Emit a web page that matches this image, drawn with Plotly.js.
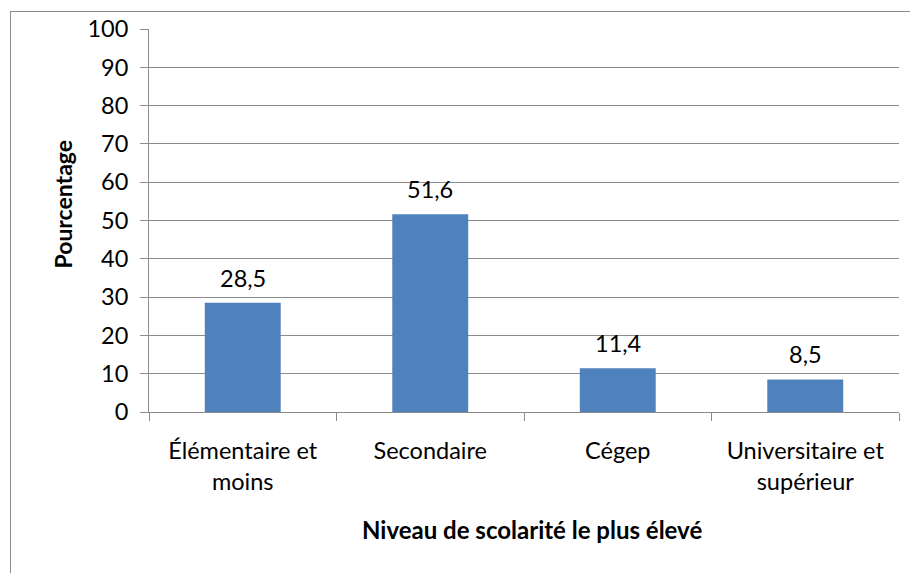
<!DOCTYPE html>
<html>
<head>
<meta charset="utf-8">
<script src="https://cdn.plot.ly/plotly-3.0.1.min.js"></script>
<style>
  html, body { margin: 0; padding: 0; background: #ffffff; }
  #wrap { position: relative; width: 910px; height: 573px; overflow: hidden; }
  #frame { position: absolute; left: 10px; top: 11px; width: 1000px; height: 700px; border: 1.5px solid #8c8c8c; box-sizing: border-box; }
  #chart { position: absolute; left: 0; top: 0; width: 910px; height: 573px; }
</style>
</head>
<body>
<div id="wrap">
  <div id="frame"></div>
  <div id="chart"></div>
</div>
<script>
const categories = ["Élémentaire et<br>moins", "Secondaire", "Cégep", "Universitaire et<br>supérieur"];
const values = [28.5, 51.6, 11.4, 8.5];
const yTickValues = [0, 10, 20, 30, 40, 50, 60, 70, 80, 90, 100];
const xTitle = "Niveau de scolarité le plus élevé";
const yTitle = "Pourcentage";

const FONT = "Lato, 'Open Sans', sans-serif";
const SIZE = 23.5;

const trace = {
  type: "bar",
  x: categories,
  y: values,
  marker: { color: "#4F81BD" },
  hoverinfo: "skip"
};

const labelAnnotations = categories.map((c, i) => ({
  x: c, y: values[i], xref: "x", yref: "y",
  text: values[i].toFixed(1).replace(".", ","),
  showarrow: false, yanchor: "bottom", yshift: 9,
  font: { family: FONT, size: SIZE, color: "#000000" }
}));

const layout = {
  width: 910, height: 573,
  margin: { l: 149, r: 11, t: 29, b: 161 },
  paper_bgcolor: "rgba(0,0,0,0)",
  plot_bgcolor: "#ffffff",
  separators: ",.",
  showlegend: false,
  bargap: 0.595,
  font: { family: FONT, size: SIZE, color: "#000000" },
  xaxis: {
    type: "category",
    tickson: "boundaries",
    ticks: "outside", ticklen: 8, tickcolor: "#8c8c8c", tickwidth: 1,
    showline: true, linecolor: "#8c8c8c", linewidth: 1,
    showgrid: false,
    ticklabelstandoff: 18,
    tickfont: { family: FONT, size: SIZE, color: "#000000" },
    fixedrange: true
  },
  yaxis: {
    range: [0, 100],
    tickvals: yTickValues,
    ticktext: yTickValues.map(String),
    ticks: "outside", ticklen: 8, tickcolor: "#8c8c8c", tickwidth: 1,
    showline: true, linecolor: "#8c8c8c", linewidth: 1,
    showgrid: true, gridcolor: "#8c8c8c", gridwidth: 1,
    zeroline: false,
    ticklabelstandoff: 7,
    tickfont: { family: FONT, size: SIZE, color: "#000000" },
    fixedrange: true
  },
  annotations: labelAnnotations.concat([
    {
      text: "<b>" + xTitle + "</b>", xref: "paper", yref: "paper",
      x: 0.5107, y: -0.308, showarrow: false, xanchor: "center", yanchor: "middle",
      font: { family: FONT, size: 24, color: "#000000" }
    },
    {
      text: "<b>" + yTitle + "</b>", xref: "paper", yref: "paper",
      x: -0.1147, y: 0.5443, showarrow: false, xanchor: "center", yanchor: "middle",
      textangle: -90,
      font: { family: FONT, size: 23, color: "#000000" }
    }
  ])
};

Plotly.newPlot("chart", [trace], layout, { displayModeBar: false, staticPlot: true });
</script>
</body>
</html>
